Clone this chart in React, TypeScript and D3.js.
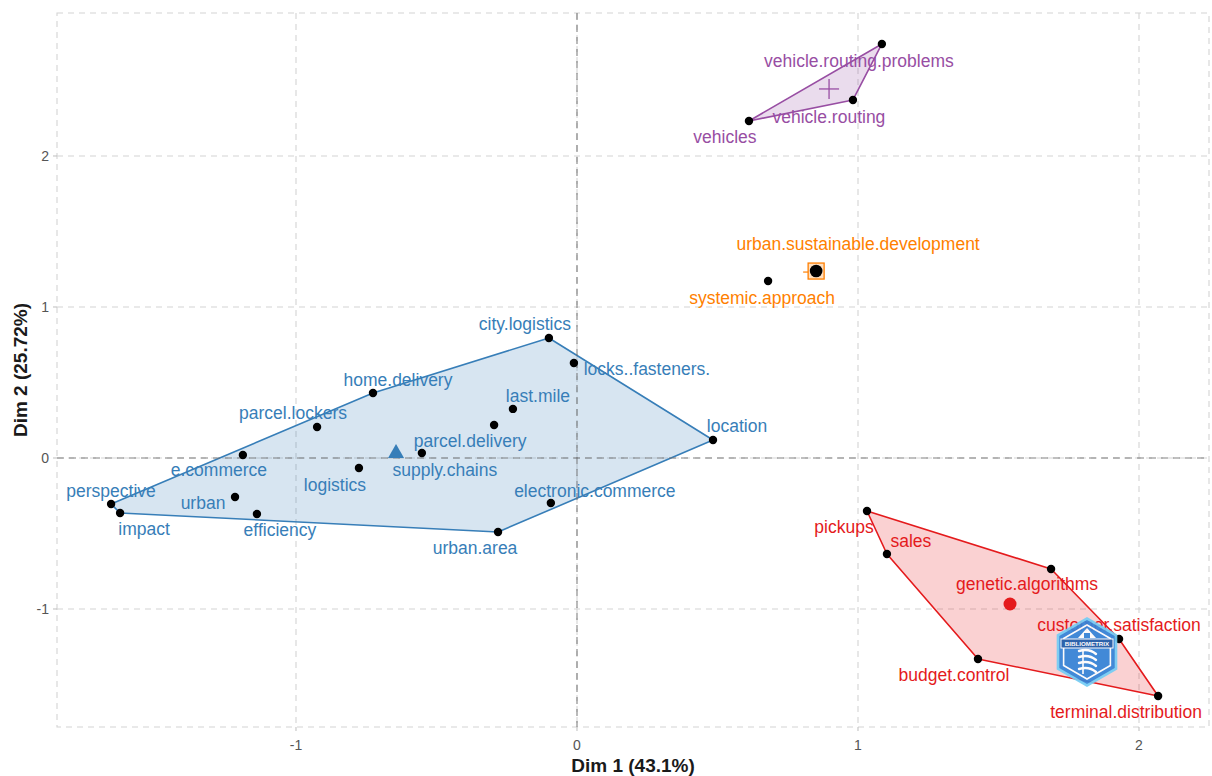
import React, { useMemo } from "react";
import * as d3 from "d3";

// Conceptual structure map: word coordinates on the first two dimensions
const words = [
  "vehicle.routing.problems", "vehicle.routing", "vehicles",
  "urban.sustainable.development", "systemic.approach",
  "city.logistics", "locks..fasteners.", "location", "home.delivery", "last.mile",
  "parcel.lockers", "parcel.delivery", "supply.chains", "e.commerce", "logistics",
  "electronic.commerce", "perspective", "urban", "impact", "efficiency", "urban.area",
  "pickups", "sales", "genetic.algorithms", "customer.satisfaction", "budget.control",
  "terminal.distribution",
];
const dim1 = [
  1.085, 0.982, 0.612,
  0.851, 0.680,
  -0.100, -0.011, 0.484, -0.726, -0.228,
  -0.925, -0.295, -0.552, -1.189, -0.776,
  -0.093, -1.658, -1.217, -1.626, -1.139, -0.281,
  1.032, 1.103, 1.687, 1.929, 1.427,
  2.068,
];
const dim2 = [
  2.742, 2.371, 2.232,
  1.238, 1.172,
  0.795, 0.629, 0.119, 0.430, 0.325,
  0.205, 0.219, 0.033, 0.020, -0.066,
  -0.298, -0.305, -0.258, -0.364, -0.371, -0.490,
  -0.351, -0.636, -0.735, -1.199, -1.331,
  -1.576,
];
const cluster = [
  3, 3, 3,
  4, 4,
  1, 1, 1, 1, 1,
  1, 1, 1, 1, 1,
  1, 1, 1, 1, 1, 1,
  2, 2, 2, 2, 2,
  2,
];

// Cluster centres
const clusterIds = [1, 2, 3, 4];
const centroidDim1 = [-0.644, 1.541, 0.897, 0.851];
const centroidDim2 = [0.040, -0.967, 2.444, 1.238];

const xTicks = [-1, 0, 1, 2];
const yTicks = [-1, 0, 1, 2];
const xTitle = "Dim 1 (43.1%)";
const yTitle = "Dim 2 (25.72%)";

// Set1 colours per cluster
const clusterColor: Record<number, string> = {
  1: "#377EB8",
  2: "#E41A1C",
  3: "#984EA3",
  4: "#FF7F00",
};

// Repelled label offsets in pixels from each point
const labelNudge: Record<string, [number, number]> = {
  "vehicle.routing.problems": [-23, 17],
  "vehicle.routing": [-24, 17],
  "vehicles": [-24, 16],
  "urban.sustainable.development": [42, -27],
  "systemic.approach": [-6, 17],
  "city.logistics": [-24, -14],
  "locks..fasteners.": [73, 6],
  "location": [24, -14],
  "home.delivery": [25, -13],
  "last.mile": [25, -13],
  "parcel.lockers": [-24, -14],
  "parcel.delivery": [-24, 16],
  "supply.chains": [23, 17],
  "e.commerce": [-24, 15],
  "logistics": [-24, 17],
  "electronic.commerce": [44, -12],
  "perspective": [0, -13],
  "urban": [-32, 6],
  "impact": [24, 16],
  "efficiency": [23, 16],
  "urban.area": [-23, 16],
  "pickups": [-23, 16],
  "sales": [24, -13],
  "genetic.algorithms": [-24, 15],
  "customer.satisfaction": [0, -14],
  "budget.control": [-24, 16],
  "terminal.distribution": [-32, 16],
};

const W = 1212;
const H = 776;
const panel = { left: 57, right: 1209, top: 13, bottom: 727 };

function hexPoints(cx: number, cy: number, r: number): string {
  return d3
    .range(6)
    .map((i) => {
      const a = (Math.PI / 3) * i - Math.PI / 2;
      return `${cx + r * Math.cos(a)},${cy + r * Math.sin(a)}`;
    })
    .join(" ");
}

function Logo({ cx, cy }: { cx: number; cy: number }) {
  return (
    <g opacity={0.92}>
      <polygon points={hexPoints(cx, cy, 35)} fill="#74cdf5" />
      <polygon points={hexPoints(cx, cy, 32)} fill="#3383d8" />
      <polygon points={hexPoints(cx, cy, 27)} fill="none" stroke="#ffffff" strokeWidth={1.6} />
      {/* roof and tower */}
      <path
        d={`M${cx - 9},${cy - 14} L${cx},${cy - 24} L${cx + 9},${cy - 14} Z`}
        fill="#ffffff"
      />
      <rect x={cx - 3} y={cy - 19} width={6} height={6} fill="#3383d8" />
      {/* banner */}
      <rect x={cx - 26} y={cy - 13} width={52} height={9} fill="#1d5aa8" stroke="#ffffff" strokeWidth={1} />
      <text
        x={cx}
        y={cy - 8.3}
        textAnchor="middle"
        dominantBaseline="central"
        fontFamily="Liberation Sans, Arial, sans-serif"
        fontWeight="bold"
        fontSize={6.2}
        fill="#ffffff"
      >
        BIBLIOMETRIX
      </text>
      {/* coil */}
      {[0, 1, 2, 3].map((i) => (
        <path
          key={i}
          d={`M${cx - 8},${cy - 1 + i * 6} Q${cx + 2},${cy - 4 + i * 6} ${cx + 9},${cy + 2 + i * 6}`}
          fill="none"
          stroke="#ffffff"
          strokeWidth={2.4}
          strokeLinecap="round"
        />
      ))}
      <path
        d={`M${cx - 4},${cy - 3} L${cx - 4},${cy + 22}`}
        stroke="#ffffff"
        strokeWidth={1.6}
      />
    </g>
  );
}

export default function App() {
  const x = useMemo(
    () =>
      d3
        .scaleLinear()
        .domain([-1.8505, 2.2491])
        .range([panel.left, panel.right]),
    []
  );
  const y = useMemo(
    () =>
      d3
        .scaleLinear()
        .domain([-1.7815, 2.947])
        .range([panel.bottom, panel.top]),
    []
  );

  const pts = words.map((w, i) => ({
    word: w,
    px: x(dim1[i]),
    py: y(dim2[i]),
    c: cluster[i],
  }));

  const hulls = clusterIds
    .map((id) => {
      const members = pts.filter((p) => p.c === id).map((p) => [p.px, p.py] as [number, number]);
      const hull = members.length >= 3 ? d3.polygonHull(members) : null;
      return { id, hull };
    })
    .filter((h) => h.hull);

  const centroids = clusterIds.map((id, i) => ({
    id,
    px: x(centroidDim1[i]),
    py: y(centroidDim2[i]),
  }));

  const labelFont = "Liberation Sans, Arial, Helvetica, sans-serif";
  const gridColor = "#d4d4d4";

  return (
    <svg
      width={W}
      height={H}
      style={{ position: "absolute", left: 0, top: 0, background: "#ffffff" }}
    >
      {/* panel border */}
      <rect
        x={panel.left}
        y={panel.top}
        width={panel.right - panel.left}
        height={panel.bottom - panel.top}
        fill="none"
        stroke={gridColor}
        strokeWidth={1.1}
        strokeDasharray="6,5"
      />
      {/* grid */}
      {xTicks.map((t) => (
        <line
          key={`gx${t}`}
          x1={x(t)}
          x2={x(t)}
          y1={panel.top}
          y2={panel.bottom}
          stroke={gridColor}
          strokeWidth={1.1}
          strokeDasharray="6,5"
        />
      ))}
      {yTicks.map((t) => (
        <line
          key={`gy${t}`}
          x1={panel.left}
          x2={panel.right}
          y1={y(t)}
          y2={y(t)}
          stroke={gridColor}
          strokeWidth={1.1}
          strokeDasharray="6,5"
        />
      ))}

      {/* hulls */}
      {hulls.map((h) => (
        <polygon
          key={`h${h.id}`}
          points={h.hull!.map((p) => p.join(",")).join(" ")}
          fill={clusterColor[h.id]}
          fillOpacity={0.2}
          stroke={clusterColor[h.id]}
          strokeWidth={1.6}
          strokeLinejoin="round"
        />
      ))}

      {/* zero reference lines */}
      <line
        x1={x(0)}
        x2={x(0)}
        y1={panel.top}
        y2={panel.bottom}
        stroke="#6e6e6e"
        strokeWidth={1.1}
        strokeDasharray="7,5"
        opacity={0.85}
      />
      <line
        x1={panel.left}
        x2={panel.right}
        y1={y(0)}
        y2={y(0)}
        stroke="#6e6e6e"
        strokeWidth={1.1}
        strokeDasharray="7,5"
        opacity={0.85}
      />

      {/* centroid markers */}
      {centroids.map((c) => {
        const col = clusterColor[c.id];
        if (c.id === 1) {
          return (
            <path
              key="c1"
              d={`M${c.px},${c.py - 8} L${c.px + 8},${c.py + 6} L${c.px - 8},${c.py + 6} Z`}
              fill={col}
            />
          );
        }
        if (c.id === 2) {
          return <circle key="c2" cx={c.px} cy={c.py} r={6.5} fill={col} />;
        }
        if (c.id === 3) {
          return (
            <g key="c3" stroke={col} strokeWidth={1.3}>
              <line x1={c.px - 10} x2={c.px + 10} y1={c.py} y2={c.py} />
              <line x1={c.px} x2={c.px} y1={c.py - 10} y2={c.py + 10} />
            </g>
          );
        }
        return (
          <g key="c4">
            <rect
              x={c.px - 8}
              y={c.py - 8}
              width={16}
              height={16}
              fill={col}
              fillOpacity={0.25}
              stroke={col}
              strokeWidth={1.3}
            />
            <line x1={c.px - 13} x2={c.px - 8} y1={c.py + 1} y2={c.py + 1} stroke={col} strokeWidth={1.2} />
            <circle cx={c.px} cy={c.py} r={6.3} fill="#000000" />
          </g>
        );
      })}

      {/* word points */}
      {pts.map((p) => (
        <circle key={`p${p.word}`} cx={p.px} cy={p.py} r={4.2} fill="#000000" />
      ))}

      {/* word labels */}
      {pts.map((p) => {
        const [dx, dy] = labelNudge[p.word] ?? [0, -14];
        return (
          <text
            key={`t${p.word}`}
            x={p.px + dx}
            y={p.py + dy}
            textAnchor="middle"
            dominantBaseline="central"
            fontFamily={labelFont}
            fontSize={17.5}
            fill={clusterColor[p.c]}
          >
            {p.word}
          </text>
        );
      })}

      <Logo cx={1087} cy={652} />

      {/* axis ticks */}
      {xTicks.map((t) => (
        <g key={`xt${t}`}>
          <line x1={x(t)} x2={x(t)} y1={panel.bottom} y2={panel.bottom + 4} stroke="#bdbdbd" />
          <text
            x={x(t)}
            y={panel.bottom + 18}
            textAnchor="middle"
            dominantBaseline="central"
            fontFamily="Liberation Sans Narrow, Liberation Sans, Arial, sans-serif"
            fontSize={14}
            fill="#555555"
          >
            {t}
          </text>
        </g>
      ))}
      {yTicks.map((t) => (
        <g key={`yt${t}`}>
          <line x1={panel.left - 4} x2={panel.left} y1={y(t)} y2={y(t)} stroke="#bdbdbd" />
          <text
            x={panel.left - 8}
            y={y(t)}
            textAnchor="end"
            dominantBaseline="central"
            fontFamily="Liberation Sans Narrow, Liberation Sans, Arial, sans-serif"
            fontSize={14}
            fill="#555555"
          >
            {t}
          </text>
        </g>
      ))}

      {/* axis titles */}
      <text
        x={(panel.left + panel.right) / 2}
        y={765}
        textAnchor="middle"
        dominantBaseline="central"
        fontFamily="Liberation Sans Narrow, Liberation Sans, Arial, sans-serif"
        fontWeight="bold"
        fontSize={19}
        fill="#1a1a1a"
      >
        {xTitle}
      </text>
      <text
        transform={`translate(20,${(panel.top + panel.bottom) / 2}) rotate(-90)`}
        textAnchor="middle"
        dominantBaseline="central"
        fontFamily="Liberation Sans Narrow, Liberation Sans, Arial, sans-serif"
        fontWeight="bold"
        fontSize={19}
        fill="#1a1a1a"
      >
        {yTitle}
      </text>
    </svg>
  );
}
